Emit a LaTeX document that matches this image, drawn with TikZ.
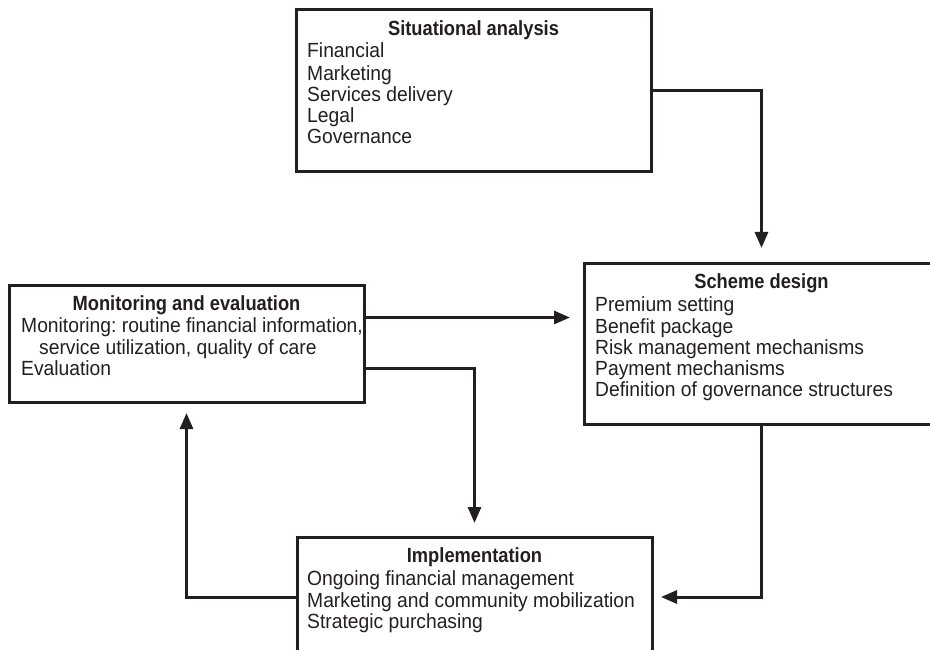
\documentclass[tikz,border=0pt]{standalone}
\usepackage{fontspec}
\usetikzlibrary{arrows.meta,calc}
\newfontfamily\bodyfont{Liberation Sans}[FakeStretch=0.94]
\newfontfamily\headfont{Liberation Sans}[FakeStretch=0.893]
\definecolor{ink}{RGB}{35,31,32}
\frenchspacing
\begin{document}
\begin{tikzpicture}[x=1pt,y=-1pt,
  box/.style={draw=ink,line width=3pt,rectangle,inner sep=0pt,outer sep=0pt,minimum width=355pt,anchor=north west},
  ttl/.style={anchor=base,inner sep=0pt,text=ink,font={\headfont\bfseries\fontsize{20.5}{21}\selectfont}},
  lst/.style={anchor=north west,inner sep=0pt,align=left,text=ink,font={\bodyfont\fontsize{20.5}{21}\selectfont\frenchspacing}},
  conn/.style={draw=ink,line width=3pt,-{Triangle[length=16pt,width=13pt]}}
]
\useasboundingbox (0,0) rectangle (930,650);

% Situational analysis
\node[box,minimum height=162pt] (sa) at (296,10) {};
\node[ttl] (sa-h) at ($(sa.north)+(0,26)$) {Situational analysis};
\node[lst] (sa-l) at ($(sa.north west)+(11,32.8)$) {\strut Financial\\Marketing\\Services delivery\\Legal\\Governance};

% Scheme design
\node[box,minimum height=161pt] (sd) at (584,263) {};
\node[ttl] (sd-h) at ($(sd.north)+(0,25)$) {Scheme design};
\node[lst] (sd-l) at ($(sd.north west)+(11,33.3)$) {\strut Premium setting\\Benefit package\\Risk management mechanisms\\Payment mechanisms\\Definition of governance structures};

% Monitoring and evaluation
\node[box,minimum height=117pt] (me) at (9,285) {};
\node[ttl] (me-h) at ($(me.north)+(0,25)$) {Monitoring and evaluation};
\node[lst] (me-l) at ($(me.north west)+(12,32.3)$) {\strut Monitoring: routine financial information,\\\hspace*{18pt}service utilization, quality of care\\Evaluation};

% Implementation
\node[box,minimum height=120pt] (im) at (297,537) {};
\node[ttl] (im-h) at ($(im.north)+(0,25)$) {Implementation};
\node[lst] (im-l) at ($(im.north west)+(10,33.3)$) {\strut Ongoing financial management\\Marketing and community mobilization\\Strategic purchasing};

% Connectors
\draw[conn,shorten >=15pt] (sa.east) -| (sd.north);
\draw[conn,shorten >=14pt] ([yshift=26pt]me.east) -- ([yshift=26pt]me.east -| sd.west);
\draw[conn,shorten >=14pt] ([yshift=-25pt]me.east) -| (im.north);
\draw[conn,shorten >=9pt] (sd.south) |- (im.east);
\draw[conn,shorten >=11pt] (im.west) -| (me.south);
\end{tikzpicture}
\end{document}
